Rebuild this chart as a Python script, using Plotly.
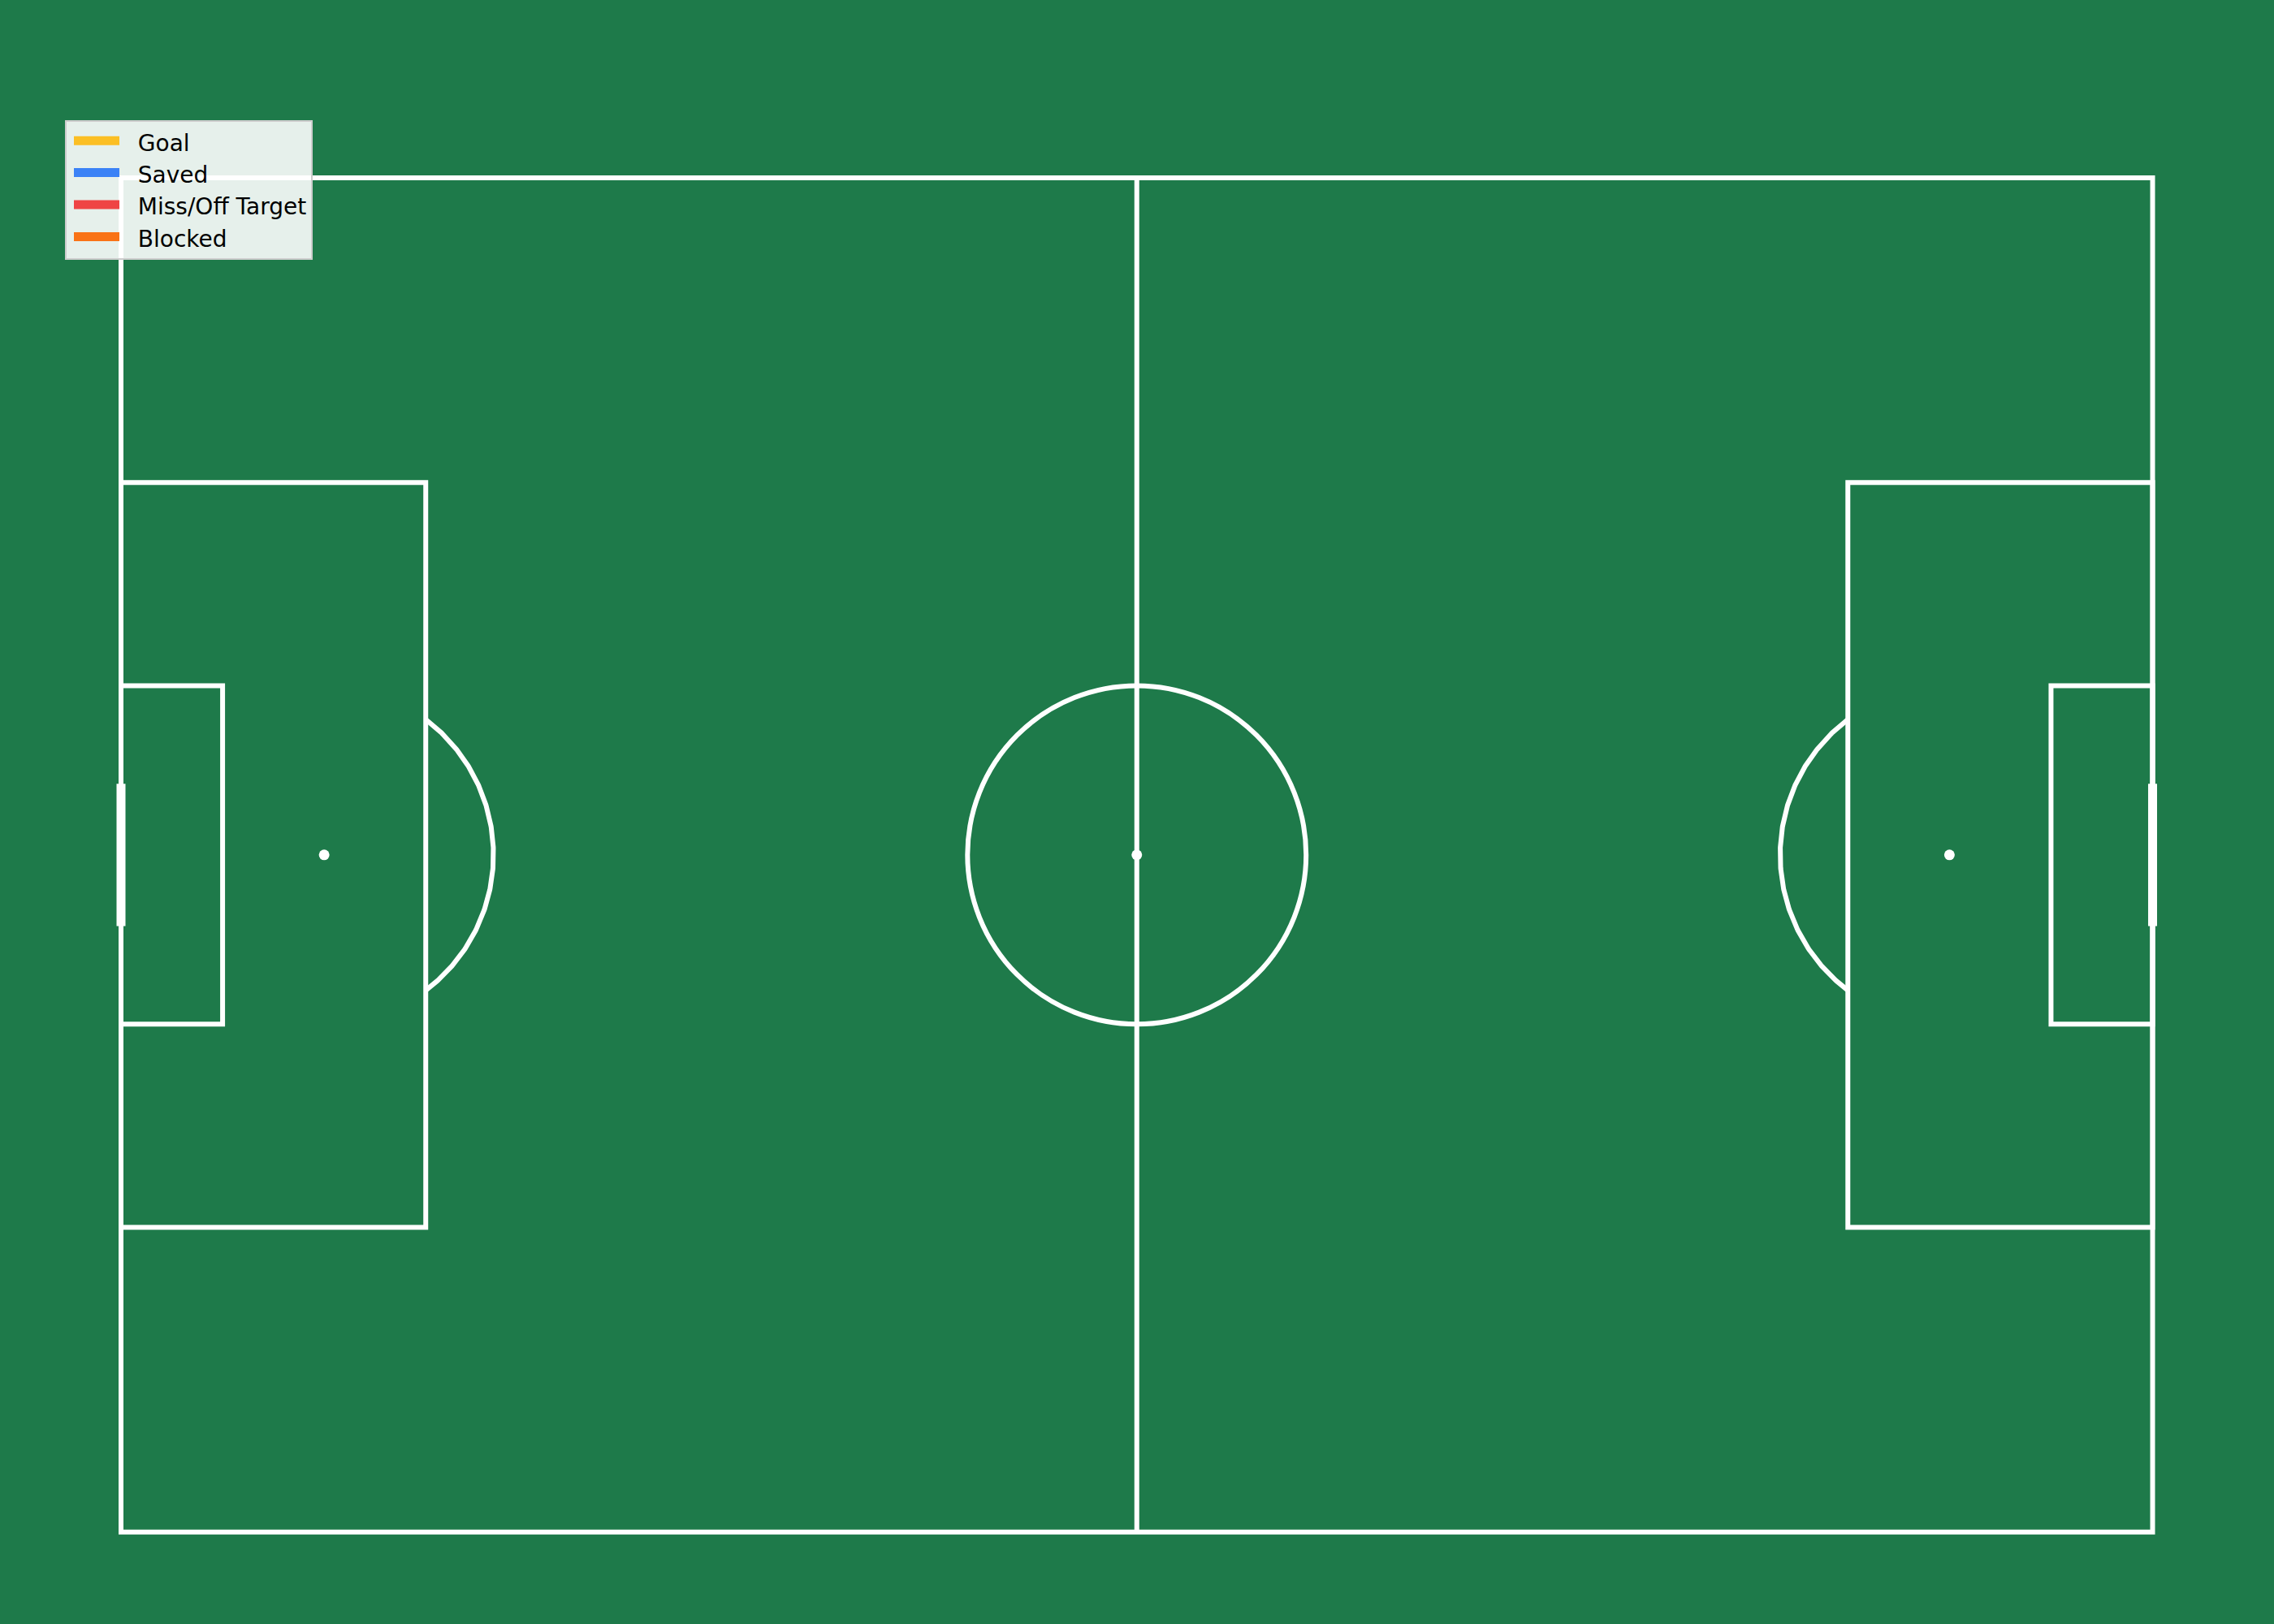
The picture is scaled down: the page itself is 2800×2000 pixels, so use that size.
import numpy as np
import plotly.graph_objects as go

# shot outcome categories shown in the legend (the map has no shots plotted)
outcome_labels = ["Goal", "Saved", "Miss/Off Target", "Blocked"]
outcome_colors = ["#FBBF24", "#3B82F6", "#EF4444", "#F97316"]
shot_x = [[], [], [], []]
shot_y = [[], [], [], []]

# statsbomb pitch dimensions
pitch_length = 120
pitch_width = 80
box_depth = 18
box_top, box_bottom = 18, 62
six_depth = 6
six_top, six_bottom = 30, 50
spot_dist = 12
circle_radius = 10
goal_top, goal_bottom = 35.8, 44.2

pitch_green = "#1E7A4A"
line_color = "white"
line_w = 6

fig = go.Figure()

# pitch outline, halfway line, boxes
shapes = []
def add_rect(x0, y0, x1, y1):
    shapes.append(dict(type="rect", xref="x", yref="y", x0=x0, y0=y0, x1=x1, y1=y1,
                       line=dict(color=line_color, width=line_w)))

def add_line(x0, y0, x1, y1, w=line_w):
    shapes.append(dict(type="line", xref="x", yref="y", x0=x0, y0=y0, x1=x1, y1=y1,
                       line=dict(color=line_color, width=w)))

add_rect(0, 0, pitch_length, pitch_width)
add_line(pitch_length / 2, 0, pitch_length / 2, pitch_width)
add_rect(0, box_top, box_depth, box_bottom)
add_rect(pitch_length - box_depth, box_top, pitch_length, box_bottom)
add_rect(0, six_top, six_depth, six_bottom)
add_rect(pitch_length - six_depth, six_top, pitch_length, six_bottom)
add_line(0, goal_top, 0, goal_bottom, w=11)
add_line(pitch_length, goal_top, pitch_length, goal_bottom, w=11)

# centre circle
cx, cy = pitch_length / 2, pitch_width / 2
shapes.append(dict(type="circle", xref="x", yref="y",
                   x0=cx - circle_radius, y0=cy - circle_radius,
                   x1=cx + circle_radius, y1=cy + circle_radius,
                   line=dict(color=line_color, width=line_w)))

# penalty arcs (part of the 10 yd circle outside the box)
half = np.arccos((box_depth - spot_dist) / circle_radius)
t = np.linspace(-half, half, 300)
for sx, sign in [(spot_dist, 1), (pitch_length - spot_dist, -1)]:
    fig.add_trace(go.Scatter(x=sx + sign * circle_radius * np.cos(t),
                             y=cy + circle_radius * np.sin(t),
                             mode="lines", line=dict(color=line_color, width=line_w),
                             showlegend=False, hoverinfo="skip"))

# spots
fig.add_trace(go.Scatter(x=[spot_dist, cx, pitch_length - spot_dist], y=[cy, cy, cy],
                         mode="markers", marker=dict(color=line_color, size=13),
                         showlegend=False, hoverinfo="skip"))

# shot outcomes (legend entries)
for label, color, xs, ys in zip(outcome_labels, outcome_colors, shot_x, shot_y):
    fig.add_trace(go.Scatter(x=xs if xs else [None], y=ys if ys else [None],
                             name="\u00a0\u00a0" + label, mode="lines",
                             fill="toself", fillcolor=color,
                             line=dict(color=color, width=10)))

# ranges chosen so 1 unit ~ 20.85 px on the 2800x2000 canvas
x_px = 20.846
x0 = -149 / x_px
y0 = -219 / x_px

fig.update_layout(
    width=2800, height=2000,
    margin=dict(l=0, r=0, t=0, b=0),
    paper_bgcolor=pitch_green, plot_bgcolor=pitch_green,
    shapes=shapes,
    xaxis=dict(range=[x0, x0 + 2800 / x_px], visible=False, showgrid=False, zeroline=False),
    yaxis=dict(range=[y0 + 2000 / x_px, y0], visible=False, showgrid=False, zeroline=False),
    font=dict(family="DejaVu Sans", size=28, color="black"),
    legend=dict(x=80 / 2800, y=1 - 148 / 2000, xanchor="left", yanchor="top",
                bgcolor="rgba(255,255,255,0.89)", bordercolor="#cccccc", borderwidth=2,
                itemwidth=56, indentation=4,
                font=dict(family="DejaVu Sans", size=28, color="black")),
)

fig.write_html("out.html", config={"displayModeBar": False},
               post_script="document.body.style.margin='0px';")
